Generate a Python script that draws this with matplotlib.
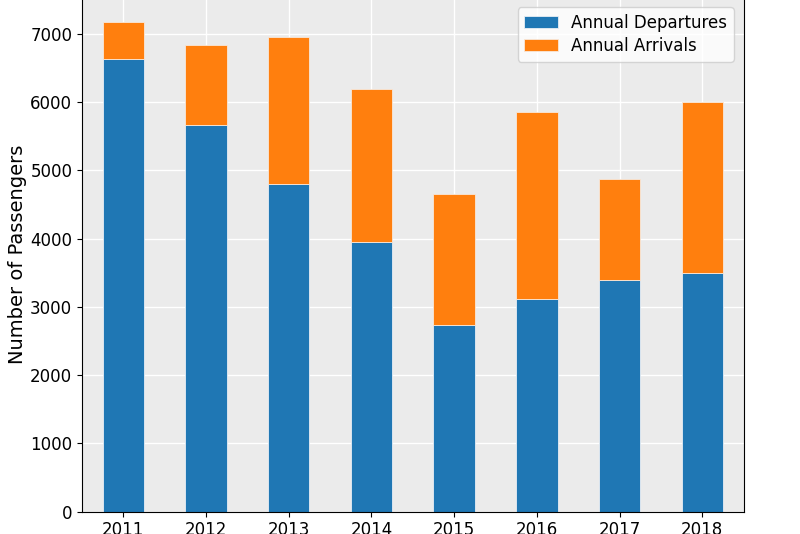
import numpy as np
import matplotlib
matplotlib.use("Agg")
import matplotlib.pyplot as plt

years = ["2011", "2012", "2013", "2014", "2015", "2016", "2017", "2018"]
departures = [6630, 5670, 4800, 3950, 2730, 3120, 3390, 3490]
arrivals = [550, 1170, 2150, 2250, 1930, 2740, 1490, 2510]

fig = plt.figure(figsize=(8, 5.34), dpi=100)
ax = fig.add_axes([0.1025, 0.0418, 0.827, 0.9635])
ax.set_facecolor("#ebebeb")

x = np.arange(len(years))
ax.bar(x, departures, width=0.5, color="#1f77b4", edgecolor="#e8eef5",
       linewidth=0.6, label="Annual Departures", zorder=2)
ax.bar(x, arrivals, width=0.5, bottom=departures, color="#ff7f0e",
       edgecolor="#f8e8da", linewidth=0.6, label="Annual Arrivals", zorder=2)

ax.set_xlim(-0.5, len(years) - 0.5)
ax.set_xticks(x)
ax.set_xticklabels(years)
ax.set_ylim(0, max(d + a for d, a in zip(departures, arrivals)) * 1.05)
ax.grid(True, color="white", linewidth=1, zorder=0)
ax.set_axisbelow(True)
ax.tick_params(labelsize=12)
ax.set_ylabel("Number of Passengers", fontsize=14, labelpad=2)
for s in ax.spines.values():
    s.set_color("black")

ax.legend(loc="upper right", fontsize=12, framealpha=0.8, edgecolor="#cccccc",
          labelspacing=0.3, borderaxespad=0.6)

fig.savefig("out.png", dpi=100)
